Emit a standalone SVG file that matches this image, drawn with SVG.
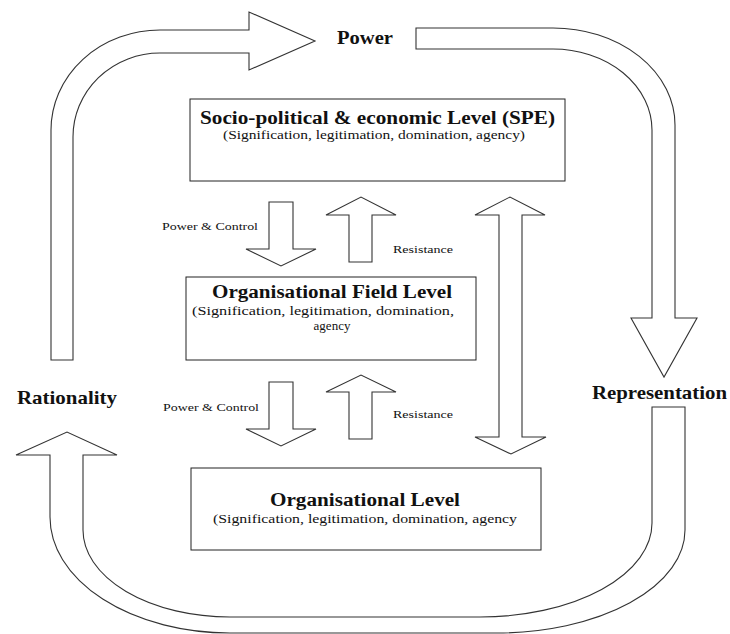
<svg xmlns="http://www.w3.org/2000/svg" width="730" height="634" viewBox="0 0 730 634">
<style>
.arr{fill:#fff;stroke:#333;stroke-width:1.1;stroke-linejoin:miter}
.box{fill:#fff;stroke:#222;stroke-width:1}
.lbl{font-family:"Liberation Serif","Times New Roman",serif;font-weight:bold;font-size:19px;fill:#111}
.ttl{font-family:"Liberation Serif","Times New Roman",serif;font-weight:bold;font-size:18px;fill:#111;text-anchor:middle}
.sub{font-family:"Liberation Serif","Times New Roman",serif;font-size:13px;fill:#111;text-anchor:middle}
.sm{font-family:"Liberation Serif","Times New Roman",serif;font-size:11px;fill:#111}
</style>
<rect width="730" height="634" fill="#fff"/>
<g id="connectors">
  <path id="arrow-power" class="arr" d="M 51 360 L 51 130 A 109 100 0 0 1 160 30 L 249 30 L 249 12 L 315 41 L 249 70 L 249 53 L 160 53 A 87 84 0 0 0 73 137 L 73 360 Z"/>
  <path id="arrow-representation" class="arr" d="M 416 28 L 553 28 A 122 97 0 0 1 675 125 L 675 318 L 697 318 L 664 377 L 631 318 L 652 318 L 652 130 A 99 81 0 0 0 553 49 L 416 49 Z"/>
  <path id="arrow-rationality" class="arr" d="M 685 407 L 685 530 A 188 103 0 0 1 497 633 L 230 633 A 180 116 0 0 1 50 517 L 50 455 L 16 455 L 67 432 L 117 455 L 83 455 L 83 530 A 147 87 0 0 0 230 617 L 480 617 A 172 94 0 0 0 652 523 L 652 407 Z"/>
  <path id="down1" class="arr" d="M 269 202 L 293 202 L 293 249 L 316 249 L 281 266 L 246 249 L 269 249 Z"/>
  <path id="up1" class="arr" d="M 349 262 L 349 215 L 326 215 L 361 197 L 396 215 L 372 215 L 372 262 Z"/>
  <path id="double" class="arr" d="M 499 215 L 475 215 L 510 197 L 545 215 L 522 215 L 522 437 L 546 437 L 511 454 L 475 437 L 499 437 Z"/>
  <path id="down2" class="arr" d="M 269 382 L 293 382 L 293 429 L 316 429 L 281 446 L 246 429 L 269 429 Z"/>
  <path id="up2" class="arr" d="M 349 439 L 349 392 L 326 392 L 361 375 L 396 392 L 372 392 L 372 439 Z"/>
  <text class="sm" x="162" y="230" textLength="96" lengthAdjust="spacingAndGlyphs">Power &amp; Control</text>
  <text class="sm" x="393" y="253" textLength="60" lengthAdjust="spacingAndGlyphs">Resistance</text>
  <text class="sm" x="163" y="411" textLength="96" lengthAdjust="spacingAndGlyphs">Power &amp; Control</text>
  <text class="sm" x="393" y="418" textLength="60" lengthAdjust="spacingAndGlyphs">Resistance</text>
</g>
<g id="label-power"><text class="lbl" x="337" y="44" textLength="56" lengthAdjust="spacingAndGlyphs">Power</text></g>
<g id="label-rationality"><text class="lbl" x="17" y="404" textLength="100" lengthAdjust="spacingAndGlyphs">Rationality</text></g>
<g id="label-representation"><text class="lbl" x="592" y="399" textLength="135" lengthAdjust="spacingAndGlyphs">Representation</text></g>
<g id="node-spe">
  <rect class="box" x="190" y="99" width="375" height="82"/>
  <text class="ttl" x="377.5" y="124" textLength="355" lengthAdjust="spacingAndGlyphs">Socio-political &amp; economic Level (SPE)</text>
  <text class="sub" x="374" y="139" textLength="302" lengthAdjust="spacingAndGlyphs">(Signification, legitimation, domination, agency)</text>
</g>
<g id="node-field">
  <rect class="box" x="186" y="277" width="290" height="83"/>
  <text class="ttl" x="332" y="298" textLength="240" lengthAdjust="spacingAndGlyphs">Organisational Field Level</text>
  <text class="sub" x="323" y="315" textLength="262" lengthAdjust="spacingAndGlyphs">(Signification, legitimation, domination,</text>
  <text class="sub" x="332" y="330">agency</text>
</g>
<g id="node-org">
  <rect class="box" x="191" y="468" width="350" height="82"/>
  <text class="ttl" x="365" y="506" textLength="190" lengthAdjust="spacingAndGlyphs">Organisational Level</text>
  <text class="sub" x="365" y="523" textLength="304" lengthAdjust="spacingAndGlyphs">(Signification, legitimation, domination, agency</text>
</g>
</svg>
